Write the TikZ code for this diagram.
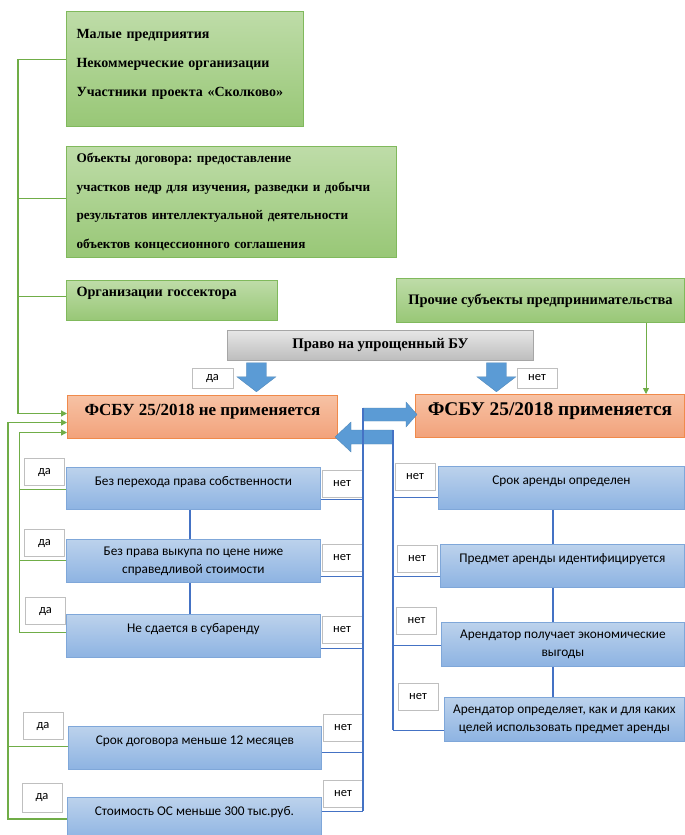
\documentclass[tikz,border=0pt]{standalone}
\usepackage{fontspec}
\setmainfont{Liberation Serif}
\newfontfamily\calfont{Carlito}
\usepackage{tikz}
\usetikzlibrary{arrows.meta}
\frenchspacing

\definecolor{grnedge}{HTML}{80B95C}
\definecolor{grntop}{HTML}{BEDCA8}
\definecolor{grnbot}{HTML}{98C776}
\definecolor{grnline}{HTML}{70AD47}
\definecolor{orgedge}{HTML}{F08A4B}
\definecolor{orgtop}{HTML}{F7C2A5}
\definecolor{orgbot}{HTML}{F2A27A}
\definecolor{bluedge}{HTML}{7FA7D9}
\definecolor{blutop}{HTML}{BCD2EC}
\definecolor{blubot}{HTML}{8DB3E2}
\definecolor{bluline}{HTML}{4472C4}
\definecolor{arrfill}{HTML}{5B9BD5}
\definecolor{grytop}{HTML}{E6E6E6}
\definecolor{grybot}{HTML}{BDBDBD}
\definecolor{tagedge}{HTML}{BFBFBF}

\begin{document}
\begin{tikzpicture}[x=1pt,y=-1pt]
            \tikzstyle{every node}+=[inner sep=0pt]
            \tikzstyle{grnbox}=[draw=grnedge, line width=1pt, top color=grntop, bottom color=grnbot, anchor=north west, align=left, inner xsep=10pt, font=\bfseries\fontsize{14}{29}\selectfont]
            \tikzstyle{orgbox}=[draw=orgedge, line width=1pt, top color=orgtop, bottom color=orgbot, anchor=north west, text depth=14pt, font=\bfseries]
            \tikzstyle{blubox}=[draw=bluedge, line width=0.8pt, top color=blutop, bottom color=blubot, anchor=north west, align=center, font=\calfont\fontsize{13.3}{18}\selectfont]
            \tikzstyle{hi}=[text depth=15pt]
            \tikzstyle{tagbox}=[draw=tagedge, line width=0.8pt, fill=white, minimum width=40pt, minimum height=27pt, font=\calfont\fontsize{12.5}{14}\selectfont]
            \tikzstyle{gline}=[draw=grnline, line width=1.3pt]
            \tikzstyle{bline}=[draw=bluline, line width=1.3pt]
            \tikzstyle{tip}=[-{Triangle[length=6pt,width=6pt]}]
            \tikzstyle{barrow}=[fill=arrfill, draw=arrfill!85!black, line width=0.3pt]
            \clip (0,0) rectangle (685,835);
            \fill [white] (0,0) rectangle (685,835);
            % green boxes
            \node [grnbox, text width=217pt, minimum height=115pt, text depth=71pt] (g1) at (66,11) {Малые предприятия\\Некоммерческие организации\\Участники проекта «Сколково»};
            \node [grnbox, text width=310pt, minimum height=111pt, font=\bfseries\fontsize{13.2}{28.7}\selectfont] (g2) at (66,146) {Объекты договора: предоставление\\участков недр для изучения, разведки и добычи\\результатов интеллектуальной деятельности\\объектов концессионного соглашения};
            \node [grnbox, text width=191pt, minimum height=40pt, text depth=17pt, font=\bfseries\fontsize{14.2}{17}\selectfont] (g3) at (66,280) {Организации госсектора};
            \node [grnbox, align=center, minimum width=288pt, minimum height=44pt, font=\bfseries\fontsize{14.5}{17}\selectfont] (pr) at (396,278) {Прочие субъекты предпринимательства};
            \node [draw=gray!70, line width=0.8pt, top color=grytop, bottom color=grybot, anchor=north west, minimum width=306pt, minimum height=30pt, font=\bfseries\fontsize{14.7}{17}\selectfont] (gb) at (227,330) {Право на упрощенный БУ};
            % result boxes
            \node [orgbox, minimum width=270pt, minimum height=43pt, font=\bfseries\fontsize{17}{20}\selectfont] (onl) at (67,395) {ФСБУ 25/2018 не применяется};
            \node [orgbox, minimum width=269pt, minimum height=43pt, font=\bfseries\fontsize{19.4}{22}\selectfont] (op) at (415,394) {ФСБУ 25/2018 применяется};
            % left conditions
            \node [blubox, hi, minimum width=254pt, minimum height=42pt] (b1) at (66,467) {Без перехода права собственности};
            \node [blubox, minimum width=254pt, minimum height=43pt] (b2) at (66,539) {Без права выкупа по цене ниже\\справедливой стоимости};
            \node [blubox, hi, minimum width=254pt, minimum height=43pt] (b3) at (66,614) {Не сдается в субаренду};
            \node [blubox, hi, minimum width=253pt, minimum height=43pt] (b4) at (68,726) {Срок договора меньше 12 месяцев};
            \node [blubox, hi, minimum width=254pt, minimum height=43pt] (b5) at (67,797) {Стоимость ОС меньше 300 тыс.руб.};
            % right conditions
            \node [blubox, hi, minimum width=246pt, minimum height=43pt] (r1) at (438,466) {Срок аренды определен};
            \node [blubox, hi, minimum width=244pt, minimum height=43pt] (r2) at (440,544) {Предмет аренды идентифицируется};
            \node [blubox, minimum width=243pt, minimum height=44pt] (r3) at (441,622) {Арендатор получает экономические\\выгоды};
            \node [blubox, minimum width=240pt, minimum height=44pt] (r4) at (444,697) {Арендатор определяет, как и для каких\\целей использовать предмет аренды};
            % answers
            \node [tagbox, minimum width=41pt, minimum height=20pt] (ta) at (212.5,378) {да};
            \node [tagbox, minimum height=20pt] (tn) at (537,378) {нет};
            \node [tagbox] (da1) at (44.5,472) {да};
            \node [tagbox] (da2) at (44.5,543) {да};
            \node [tagbox] (da3) at (45.5,611) {да};
            \node [tagbox] (da4) at (43,726) {да};
            \node [tagbox, minimum height=29pt] (da5) at (42,797.5) {да};
            \node [tagbox] (n1) at (342,483.5) {нет};
            \node [tagbox] (n2) at (342,558) {нет};
            \node [tagbox] (n3) at (342,630) {нет};
            \node [tagbox] (n4) at (343,728) {нет};
            \node [tagbox] (n5) at (343,793.5) {нет};
            \node [tagbox] (m1) at (415,477) {нет};
            \node [tagbox] (m2) at (417,558.5) {нет};
            \node [tagbox] (m3) at (416.5,620.5) {нет};
            \node [tagbox] (m4) at (418,696.5) {нет};
            % trunk positions
            \coordinate (gl) at (18,0);
            \coordinate (gi) at (19.5,0);
            \coordinate (go) at (8,0);
            \coordinate (bl) at (363,408);
            \coordinate (br) at (393,430);
            \coordinate (lcol) at (190,0);
            \coordinate (rcol) at (553,0);
            \coordinate (dl) at ([xshift=-124pt,yshift=-2pt]gb.south);
            \coordinate (dr) at ([xshift=116pt,yshift=-2pt]gb.south);
            % block arrows
            \fill [barrow] (dl) ++(-10,0) -- ++(20,0) -- ++(0,14) -- ++(9.5,0) -- ++(-19.5,15) -- ++(-19.5,-15) -- ++(9.5,0) -- cycle;
            \fill [barrow] (dr) ++(-10,0) -- ++(20,0) -- ++(0,14) -- ++(9.5,0) -- ++(-19.5,15) -- ++(-19.5,-15) -- ++(9.5,0) -- cycle;
            \fill [barrow] (bl) -- ++(43,0) -- ++(0,-6) -- ++(11,12.5) -- ++(-11,12.5) -- ++(0,-6) -- ++(-43,0) -- cycle;
            \fill [barrow] (br) -- ++(-42,0) -- ++(0,-8) -- ++(-16,15) -- ++(16,15) -- ++(0,-8) -- ++(42,0) -- cycle;
            % green lines
            \draw [gline, tip] ([yshift=9.5pt]g1.west) -| ([yshift=3.5pt]onl.west -| gl) -- ([yshift=3.5pt]onl.west);
            \draw [gline] ([yshift=3.5pt]g2.west) -- ([yshift=3.5pt]g2.west -| gl);
            \draw [gline] ([yshift=4pt]g3.west) -- ([yshift=4pt]g3.west -| gl);
            \draw [gline, tip] (b5.west) -| ([yshift=-5.5pt]onl.west -| go) -- ([yshift=-5.5pt]onl.west);
            \draw [gline] ([yshift=1.5pt]b4.west) -- ([yshift=1.5pt]b4.west -| go);
            \draw [gline, tip] ([yshift=3.5pt]b3.west) -| ([yshift=-15.5pt]onl.west -| gi) -- ([yshift=-15.5pt]onl.west);
            \draw [gline] ([yshift=-1pt]b1.west) -- ([yshift=-1pt]b1.west -| gi);
            \draw [gline] ([yshift=0.5pt]b2.west) -- ([yshift=0.5pt]b2.west -| gi);
            \draw [grnline, line width=0.8pt, tip] ([xshift=105.5pt]pr.south) -- ([xshift=105.5pt]pr.south |- op.north);
            % blue lines
            \draw [bline] (b1.south -| lcol) -- (b2.north -| lcol);
            \draw [bline] (b2.south -| lcol) -- (b3.north -| lcol);
            \draw [bline] (r1.south -| rcol) -- (r2.north -| rcol);
            \draw [bline] (r2.south -| rcol) -- (r3.north -| rcol);
            \draw [bline] (r3.south -| rcol) -- (r4.north -| rcol);
            \draw [bline] (bl) -- ([yshift=7.5pt]b5.east -| bl);
            \draw [bline] ([yshift=-11pt]b1.east) -- ([yshift=-11pt]b1.east -| bl);
            \draw [bline] ([yshift=-15.5pt]b2.east) -- ([yshift=-15.5pt]b2.east -| bl);
            \draw [bline] ([yshift=-12.5pt]b3.east) -- ([yshift=-12.5pt]b3.east -| bl);
            \draw [bline] ([yshift=-4.5pt]b4.east) -- ([yshift=-4.5pt]b4.east -| bl);
            \draw [bline] ([yshift=7.5pt]b5.east) -- ([yshift=7.5pt]b5.east -| bl);
            \draw [bline] (br) -- ([yshift=-11pt]r4.west -| br);
            \draw [bline] ([yshift=-9.5pt]r1.west) -- ([yshift=-9.5pt]r1.west -| br);
            \draw [bline] ([yshift=-10.5pt]r2.west) -- ([yshift=-10.5pt]r2.west -| br);
            \draw [bline] ([yshift=-1pt]r3.west) -- ([yshift=-1pt]r3.west -| br);
            \draw [bline] ([yshift=-11pt]r4.west) -- ([yshift=-11pt]r4.west -| br);
\end{tikzpicture}
\end{document}
